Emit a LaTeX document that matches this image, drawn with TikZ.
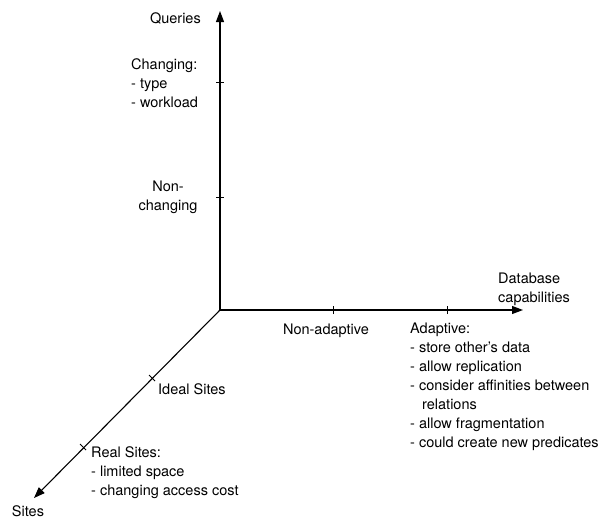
\documentclass[tikz,border=0pt]{standalone}
\usepackage{fontspec}
\setmainfont{TeX Gyre Heros}
\usetikzlibrary{arrows.meta}
\begin{document}
\begin{tikzpicture}[x=1pt,y=-1pt,
  axis/.style={line width=1.1pt,-{Triangle[length=11pt,width=8pt]}},
  tickmark/.style={line width=0.9pt},
  lbl/.style={inner sep=0pt,font=\fontsize{14.5}{19}\selectfont,align=left},
  clbl/.style={inner sep=0pt,font=\fontsize{14.5}{19}\selectfont,align=center}]
  \useasboundingbox (0,0) rectangle (600,520);
  % origin and axis ends
  \coordinate (O) at (220,310);
  \coordinate (Qtip) at (220,11);
  \coordinate (Dtip) at (523,310);
  \coordinate (Stip) at (34,498);
  % axes
  \draw[axis] (O) -- (Qtip);
  \draw[axis] (O) -- (Dtip);
  \draw[axis] (O) -- (Stip);
  % tick positions
  \coordinate (q1) at (220,197);
  \coordinate (q2) at (220,82);
  \coordinate (d1) at (333,310);
  \coordinate (d2) at (447,310);
  \coordinate (s1) at (152,378);
  \coordinate (s2) at (83,447);
  \foreach \t in {q1,q2}{\draw[tickmark] ([xshift=-4pt]\t) -- ([xshift=4pt]\t);}
  \foreach \t in {d1,d2}{\draw[tickmark] ([yshift=-4pt]\t) -- ([yshift=4pt]\t);}
  \foreach \t in {s1,s2}{\draw[tickmark] ([shift={(-3,-3)}]\t) -- ([shift={(3,3)}]\t);}
  % vertical axis labels
  \node[lbl,anchor=east] (queries) at (201,18) {Queries};
  \node[lbl,anchor=north west] (changing) at (131,58) {Changing:\\- type\\- workload};
  \node[clbl] (nonchanging) at (168,197) {Non-\\changing};
  % horizontal axis labels
  \node[lbl,anchor=west] (dbcap) at (498,289) {Database\\capabilities};
  \node[lbl] (nonadaptive) at (326,331) {Non-adaptive};
  \node[lbl,anchor=north west] (adaptive) at (410,323) {Adaptive:\\- store other’s data\\- allow replication\\- consider affinities between\\\hspace*{12pt}relations\\- allow fragmentation\\- could create new predicates};
  % diagonal axis labels
  \node[lbl,anchor=west] (ideal) at (158,389) {Ideal Sites};
  \node[lbl,anchor=north west] (real) at (91,446) {Real Sites:\\- limited space\\- changing access cost};
  \node[lbl] (sites) at (28,511) {Sites};
\end{tikzpicture}
\end{document}
